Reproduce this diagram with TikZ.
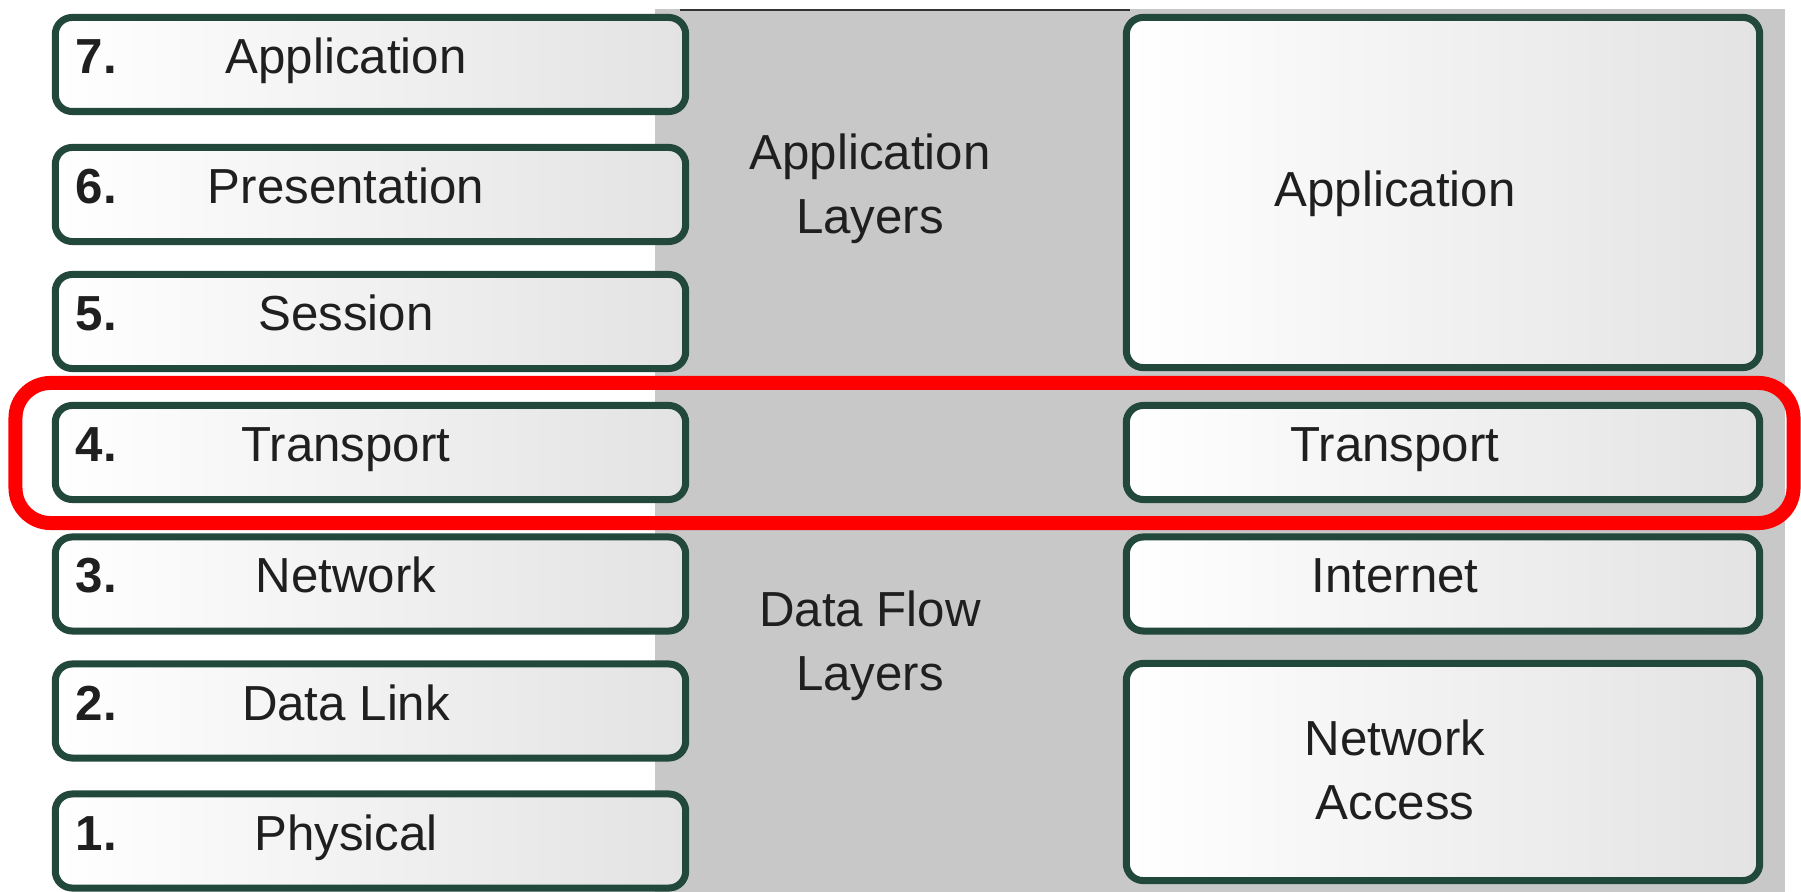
\documentclass[tikz,border=0pt]{standalone}
\usepackage{fontspec}
\setmainfont{Liberation Sans}
\definecolor{boxedge}{RGB}{34,72,60}
\definecolor{band}{RGB}{200,200,200}
\definecolor{hl}{RGB}{255,0,0}
\tikzset{
  layerbox/.style={draw=boxedge, line width=2pt, rounded corners=4.8pt,
    left color=white, right color=black!11, inner sep=0pt,
    minimum width=6.30cm, minimum height=0.94cm},
  widebox/.style={layerbox, minimum width=6.33cm},
  lbl/.style={font=\fontsize{14}{18.2}\selectfont, text=black!88,
    inner sep=0pt, anchor=base},
  twoline/.style={lbl, align=center, anchor=center},
  num/.style={lbl, font=\fontsize{14}{18.2}\selectfont\bfseries, anchor=base west},
  hlframe/.style={draw=hl, line width=0.14cm, rounded corners=0.35cm,
    inner sep=0pt, minimum width=17.77cm, minimum height=1.40cm},
  bandtop/.style={draw=black!80, line width=0.7pt}
}
\begin{document}
\begin{tikzpicture}[x=0.01cm,y=-0.01cm]
\useasboundingbox (0,0) rectangle (1801,892);
\fill[white] (0,0) rectangle (1801,892);
% grey band behind both stacks
\fill[band] (655,9) rectangle (1785,892);
\coordinate (bandL) at (680,10);
\coordinate (bandR) at (1130,10);
\draw[bandtop] (bandL) -- (bandR);

% OSI model (left stack)
\node[layerbox] (l7) at (370.5,64.5) {};
\node[layerbox] (l6) at (370.5,194.5) {};
\node[layerbox] (l5) at (370.5,321.5) {};
\node[layerbox] (l4) at (370.5,452.5) {};
\node[layerbox] (l3) at (370.5,584) {};
\node[layerbox] (l2) at (370.5,711) {};
\node[layerbox] (l1) at (370.5,841) {};

\node[num] (n7) at (75,73.5) {7.};
\node[num] (n6) at (75,203.5) {6.};
\node[num] (n5) at (75,330.5) {5.};
\node[num] (n4) at (75,461.5) {4.};
\node[num] (n3) at (75,593) {3.};
\node[num] (n2) at (75,720) {2.};
\node[num] (n1) at (75,850) {1.};

\node[lbl] (t7) at (346,73.5) {Application};
\node[lbl] (t6) at (346,203.5) {Presentation};
\node[lbl] (t5) at (346,330.5) {Session};
\node[lbl] (t4) at (346,461.5) {Transport};
\node[lbl] (t3) at (346,593) {Network};
\node[lbl] (t2) at (346,720) {Data Link};
\node[lbl] (t1) at (346,850) {Physical};

% group captions in the band
\node[twoline] (upper) at (870,189) {Application\\Layers};
\node[twoline] (lower) at (870,646) {Data Flow\\Layers};

% TCP/IP model (right stack)
\node[widebox, minimum height=3.50cm] (rapp) at (1443,192.5) {};
\node[widebox] (rtr) at (1443,452.5) {};
\node[widebox] (rnet) at (1443,584) {};
\node[widebox, minimum height=2.17cm] (racc) at (1443,772) {};

\node[lbl] (sapp) at (1395,207) {Application};
\node[lbl] (str) at (1395,461.5) {Transport};
\node[lbl] (snet) at (1395,593) {Internet};
\node[twoline] (sacc) at (1395,770) {Network\\Access};

% highlight around the transport row
\node[hlframe] (focus) at (904.5,453) {};
\end{tikzpicture}
\end{document}
